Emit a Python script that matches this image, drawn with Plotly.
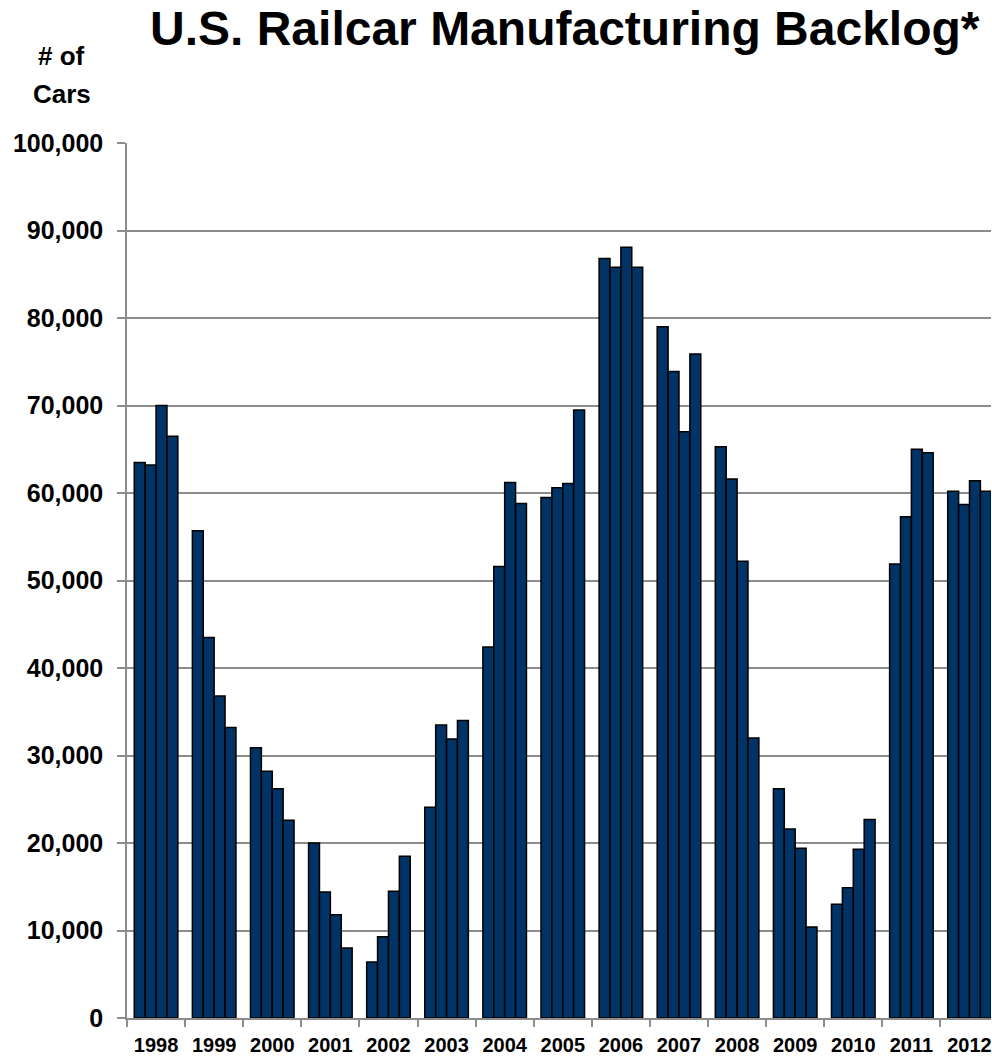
import plotly.graph_objects as go

# Quarterly railcar backlog (number of cars), by year
years = ["1998", "1999", "2000", "2001", "2002", "2003", "2004", "2005",
         "2006", "2007", "2008", "2009", "2010", "2011", "2012"]
q1 = [63500, 55700, 30900, 20000, 6400, 24100, 42400, 59500,
      86800, 79000, 65300, 26200, 13000, 51900, 60200]
q2 = [63200, 43500, 28200, 14400, 9300, 33500, 51600, 60600,
      85800, 73900, 61600, 21600, 14900, 57300, 58700]
q3 = [70000, 36800, 26200, 11800, 14500, 31900, 61200, 61100,
      88100, 67000, 52200, 19400, 19300, 65000, 61400]
q4 = [66500, 33200, 22600, 8000, 18500, 34000, 58800, 69500,
      85800, 75900, 32000, 10400, 22700, 64600, 60200]

BAR_COLOR = "#003366"
GRID = "#8c8c8c"
FONT = "Liberation Sans, Arial, sans-serif"

W, H = 992, 1056
L, R, T, B = 127, 0, 143, 36
pw, ph = W - L - R, H - T - B


def paper_x(px):
    return (px - L) / pw


def paper_y(py):
    return (H - B - py) / ph


fig = go.Figure()
for name, vals in [("Q1", q1), ("Q2", q2), ("Q3", q3), ("Q4", q4)]:
    fig.add_trace(go.Bar(
        x=years, y=vals, name=name,
        marker=dict(color=BAR_COLOR, line=dict(color="#000000", width=1.5)),
        showlegend=False,
    ))

labels = [
    ("<b>U.S. Railcar Manufacturing Backlog*</b>", 566, 28, 48),
    ("<b># of</b>", 61, 56, 26),
    ("<b>Cars</b>", 62, 94, 26),
]

fig.update_layout(
    width=W, height=H,
    margin=dict(l=L, r=R, t=T, b=B),
    paper_bgcolor="white", plot_bgcolor="white",
    barmode="group", bargap=0.25, bargroupgap=0,
    font=dict(family=FONT, color="#000000"),
    annotations=[
        dict(text=txt, x=paper_x(px), y=paper_y(py),
             xref="paper", yref="paper", xanchor="center", yanchor="middle",
             showarrow=False, font=dict(size=sz, family=FONT, color="#000000"))
        for txt, px, py, sz in labels
    ],
)

fig.update_xaxes(
    type="category",
    range=[-0.5, 14.37],
    showgrid=False,
    showline=True, linecolor=GRID, linewidth=1.5,
    ticks="outside", tickson="boundaries", ticklen=7, tickcolor=GRID, tickwidth=1.5,
    tickfont=dict(size=20, family=FONT, weight="bold"),
    ticklabelstandoff=8,
)
fig.update_yaxes(
    range=[0, 100000],
    tickvals=list(range(0, 100001, 10000)),
    tickformat=",d",
    showgrid=True, gridcolor=GRID, gridwidth=1.5,
    showline=True, linecolor=GRID, linewidth=1.5,
    ticks="outside", ticklen=8, tickcolor=GRID, tickwidth=1.5,
    tickfont=dict(size=25, family=FONT, weight="bold"),
    ticklabelstandoff=9,
    zeroline=False,
)

fig.write_html("out.html")
